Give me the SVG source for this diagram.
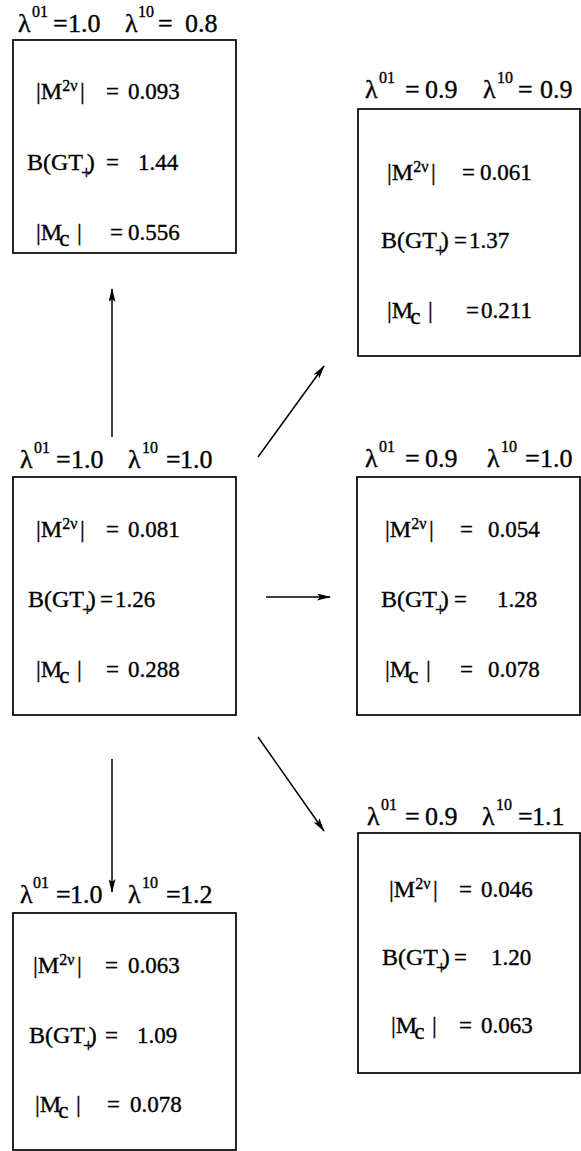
<svg xmlns="http://www.w3.org/2000/svg" width="581" height="1151" viewBox="0 0 581 1151">
<style>
.box{fill:none;stroke:#000;stroke-width:1.7}
text{font-family:"Liberation Serif","Times New Roman",serif;fill:#000;stroke:#000;stroke-width:0.35}
.t{font-size:23px}
.m{font-size:24px}
.bg{font-size:24px}
.s{font-size:16px}
.l{font-size:26px}
.ls{font-size:16px}
.p{font-size:19px}
.c{stroke:#000;stroke-width:1.5;fill:none}
</style>
<defs>
<marker id="ah" viewBox="0 0 14 7" refX="13" refY="3.5" markerWidth="14" markerHeight="7" orient="auto" markerUnits="userSpaceOnUse"><path d="M0,0 L14,3.5 L0,7 L3,3.5 z" fill="#000"/></marker>
</defs>

<g id="n1">
<rect class="box" x="13" y="40" width="223" height="213"/>
<text class="l" y="32"><tspan x="18">λ</tspan><tspan class="ls" x="32" dy="-15">01</tspan><tspan x="53" dy="15">=</tspan><tspan x="68">1.0</tspan><tspan x="125">λ</tspan><tspan class="ls" x="138" dy="-15">10</tspan><tspan x="158" dy="15">=</tspan><tspan x="185">0.8</tspan></text>
<text class="t" y="99"><tspan class="m" x="36">|M</tspan><tspan class="s" dy="-8">2ν</tspan><tspan class="m" x="80" dy="8">|</tspan><tspan x="106">=</tspan><tspan x="128">0.093</tspan></text>
<text class="t" y="170"><tspan class="bg" x="27">B(GT</tspan><tspan class="p" dx="-2" dy="9">+</tspan><tspan class="bg" dx="-5" dy="-9">)</tspan><tspan x="106">=</tspan><tspan x="138">1.44</tspan></text>
<text class="t" y="240"><tspan class="m" x="36">|M</tspan><tspan dx="-3" dy="6">c</tspan><tspan class="m" x="77" dy="-6">|</tspan><tspan x="110">=</tspan><tspan x="128">0.556</tspan></text>
</g>

<g id="n2">
<rect class="box" x="358" y="109" width="222" height="247"/>
<text class="l" y="98"><tspan x="365">λ</tspan><tspan class="ls" x="379" dy="-15">01</tspan><tspan x="405" dy="15">=</tspan><tspan x="425">0.9</tspan><tspan x="483">λ</tspan><tspan class="ls" x="497" dy="-15">10</tspan><tspan x="518" dy="15">=</tspan><tspan x="540">0.9</tspan></text>
<text class="t" y="180"><tspan class="m" x="387">|M</tspan><tspan class="s" dy="-8">2ν</tspan><tspan class="m" x="431" dy="8">|</tspan><tspan x="462">=</tspan><tspan x="480">0.061</tspan></text>
<text class="t" y="248"><tspan class="bg" x="381">B(GT</tspan><tspan class="p" dx="-2" dy="9">+</tspan><tspan class="bg" dx="-5" dy="-9">)</tspan><tspan x="454">=</tspan><tspan x="469">1.37</tspan></text>
<text class="t" y="318"><tspan class="m" x="387">|M</tspan><tspan dx="-3" dy="6">c</tspan><tspan class="m" x="428" dy="-6">|</tspan><tspan x="466">=</tspan><tspan x="481">0.211</tspan></text>
</g>

<g id="n3">
<rect class="box" x="13" y="477" width="223" height="238"/>
<text class="l" y="468"><tspan x="20">λ</tspan><tspan class="ls" x="34" dy="-15">01</tspan><tspan x="56" dy="15">=</tspan><tspan x="71">1.0</tspan><tspan x="128">λ</tspan><tspan class="ls" x="142" dy="-15">10</tspan><tspan x="166" dy="15">=</tspan><tspan x="180">1.0</tspan></text>
<text class="t" y="537"><tspan class="m" x="36">|M</tspan><tspan class="s" dy="-8">2ν</tspan><tspan class="m" x="80" dy="8">|</tspan><tspan x="106">=</tspan><tspan x="128">0.081</tspan></text>
<text class="t" y="607"><tspan class="bg" x="28">B(GT</tspan><tspan class="p" dx="-2" dy="9">+</tspan><tspan class="bg" dx="-5" dy="-9">)</tspan><tspan x="100">=</tspan><tspan x="115">1.26</tspan></text>
<text class="t" y="677"><tspan class="m" x="36">|M</tspan><tspan dx="-3" dy="6">c</tspan><tspan class="m" x="77" dy="-6">|</tspan><tspan x="106">=</tspan><tspan x="128">0.288</tspan></text>
</g>

<g id="n4">
<rect class="box" x="357" y="477" width="223" height="238"/>
<text class="l" y="467"><tspan x="365">λ</tspan><tspan class="ls" x="379" dy="-15">01</tspan><tspan x="405" dy="15">=</tspan><tspan x="425">0.9</tspan><tspan x="487">λ</tspan><tspan class="ls" x="501" dy="-15">10</tspan><tspan x="525" dy="15">=</tspan><tspan x="540">1.0</tspan></text>
<text class="t" y="537"><tspan class="m" x="385">|M</tspan><tspan class="s" dy="-8">2ν</tspan><tspan class="m" x="429" dy="8">|</tspan><tspan x="460">=</tspan><tspan x="488">0.054</tspan></text>
<text class="t" y="607"><tspan class="bg" x="381">B(GT</tspan><tspan class="p" dx="-2" dy="9">+</tspan><tspan class="bg" dx="-5" dy="-9">)</tspan><tspan x="454">=</tspan><tspan x="497">1.28</tspan></text>
<text class="t" y="677"><tspan class="m" x="385">|M</tspan><tspan dx="-3" dy="6">c</tspan><tspan class="m" x="426" dy="-6">|</tspan><tspan x="460">=</tspan><tspan x="488">0.078</tspan></text>
</g>

<g id="n5">
<rect class="box" x="13" y="913" width="223" height="237"/>
<text class="l" y="903"><tspan x="20">λ</tspan><tspan class="ls" x="33" dy="-15">01</tspan><tspan x="56" dy="15">=</tspan><tspan x="70">1.0</tspan><tspan x="128">λ</tspan><tspan class="ls" x="142" dy="-15">10</tspan><tspan x="166" dy="15">=</tspan><tspan x="180">1.2</tspan></text>
<text class="t" y="973"><tspan class="m" x="33">|M</tspan><tspan class="s" dy="-8">2ν</tspan><tspan class="m" x="77" dy="8">|</tspan><tspan x="105">=</tspan><tspan x="128">0.063</tspan></text>
<text class="t" y="1043"><tspan class="bg" x="29">B(GT</tspan><tspan class="p" dx="-2" dy="9">+</tspan><tspan class="bg" dx="-5" dy="-9">)</tspan><tspan x="105">=</tspan><tspan x="137">1.09</tspan></text>
<text class="t" y="1112"><tspan class="m" x="35">|M</tspan><tspan dx="-3" dy="6">c</tspan><tspan class="m" x="76" dy="-6">|</tspan><tspan x="107">=</tspan><tspan x="130">0.078</tspan></text>
</g>

<g id="n6">
<rect class="box" x="358" y="833" width="222" height="240"/>
<text class="l" y="825"><tspan x="367">λ</tspan><tspan class="ls" x="381" dy="-15">01</tspan><tspan x="405" dy="15">=</tspan><tspan x="425">0.9</tspan><tspan x="482">λ</tspan><tspan class="ls" x="496" dy="-15">10</tspan><tspan x="518" dy="15">=</tspan><tspan x="532">1.1</tspan></text>
<text class="t" y="897"><tspan class="m" x="389">|M</tspan><tspan class="s" dy="-8">2ν</tspan><tspan class="m" x="433" dy="8">|</tspan><tspan x="459">=</tspan><tspan x="481">0.046</tspan></text>
<text class="t" y="965"><tspan class="bg" x="382">B(GT</tspan><tspan class="p" dx="-2" dy="9">+</tspan><tspan class="bg" dx="-5" dy="-9">)</tspan><tspan x="454">=</tspan><tspan x="491">1.20</tspan></text>
<text class="t" y="1033"><tspan class="m" x="391">|M</tspan><tspan dx="-3" dy="6">c</tspan><tspan class="m" x="432" dy="-6">|</tspan><tspan x="459">=</tspan><tspan x="481">0.063</tspan></text>
</g>

<g id="connectors">
<line class="c" x1="112" y1="437" x2="112" y2="289" marker-end="url(#ah)"/>
<line class="c" x1="258" y1="457" x2="324" y2="366" marker-end="url(#ah)"/>
<line class="c" x1="266" y1="597" x2="330" y2="597" marker-end="url(#ah)"/>
<line class="c" x1="258" y1="737" x2="324" y2="831" marker-end="url(#ah)"/>
<line class="c" x1="112" y1="759" x2="112" y2="892" marker-end="url(#ah)"/>
</g>
</svg>
